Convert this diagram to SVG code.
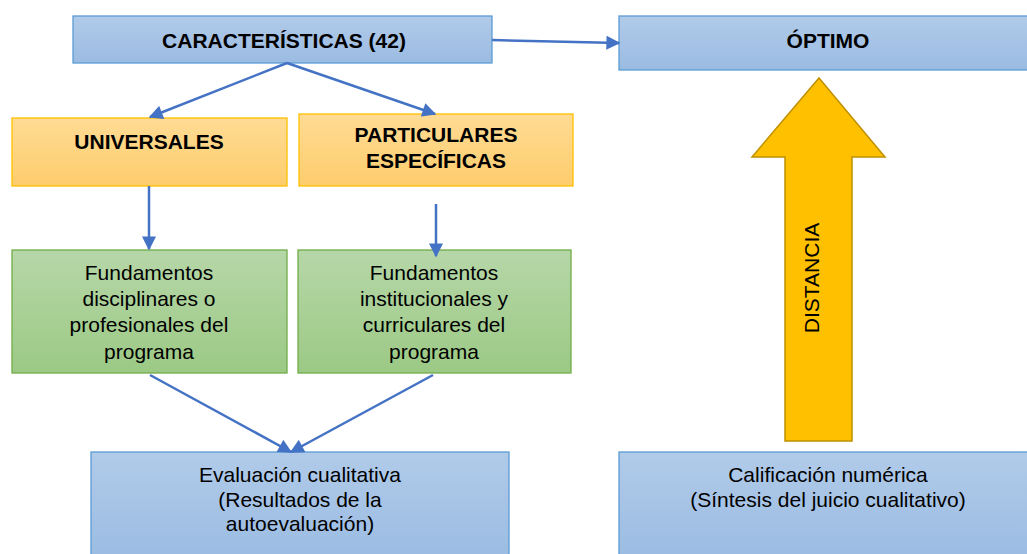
<svg xmlns="http://www.w3.org/2000/svg" width="1027" height="554" viewBox="0 0 1027 554">
<defs>
<linearGradient id="gBlue" x1="0" y1="0" x2="0" y2="1"><stop offset="0" stop-color="#b1cbe9"/><stop offset="1" stop-color="#9abbe2"/></linearGradient>
<linearGradient id="gOrange" x1="0" y1="0" x2="0" y2="1"><stop offset="0" stop-color="#ffdb94"/><stop offset="1" stop-color="#fdcd6c"/></linearGradient>
<linearGradient id="gGreen" x1="0" y1="0" x2="0" y2="1"><stop offset="0" stop-color="#b6d7a8"/><stop offset="1" stop-color="#9cc985"/></linearGradient>
<marker id="ahB" viewBox="0 0 10 10" refX="9" refY="5" markerWidth="15" markerHeight="14" markerUnits="userSpaceOnUse" orient="auto"><path d="M0,0 L10,5 L0,10 z" fill="#4472c4"/></marker>
<style>
.blue{fill:url(#gBlue);stroke:#5b9bd5;stroke-width:1.3}
.orange{fill:url(#gOrange);stroke:#ffc000;stroke-width:1.3}
.green{fill:url(#gGreen);stroke:#70ad47;stroke-width:1.3}
.b{font-family:"Liberation Sans",Arial,sans-serif;font-weight:bold;font-size:21px;fill:#000;text-anchor:middle}
.t{font-family:"Liberation Sans",Arial,sans-serif;font-size:21px;fill:#000;text-anchor:middle}
.c{fill:none;stroke:#4472c4;stroke-width:2.5;marker-end:url(#ahB)}
</style>
</defs>
<rect width="1027" height="554" fill="#fff"/>
<g id="caracteristicas"><rect class="blue" x="73" y="16" width="419" height="47"/><text class="b" x="284" y="48">CARACTERÍSTICAS (42)</text></g>
<g id="optimo"><rect class="blue" x="619" y="16" width="420" height="54"/><text class="b" x="828" y="48">ÓPTIMO</text></g>
<g id="universales"><rect class="orange" x="12" y="118" width="275" height="68"/><text class="b" x="149" y="149">UNIVERSALES</text></g>
<g id="particulares"><rect class="orange" x="299" y="114" width="274" height="72"/><text class="b" x="436" y="142">PARTICULARES</text><text class="b" x="436" y="168">ESPECÍFICAS</text></g>
<g id="fund-disciplinares"><rect class="green" x="12" y="250" width="275" height="123"/>
<text class="t" x="149" y="280">Fundamentos</text><text class="t" x="149" y="306">disciplinares o</text><text class="t" x="149" y="332">profesionales del</text><text class="t" x="149" y="359">programa</text></g>
<g id="fund-institucionales"><rect class="green" x="298" y="250" width="273" height="123"/>
<text class="t" x="434" y="280">Fundamentos</text><text class="t" x="434" y="306">institucionales y</text><text class="t" x="434" y="332">curriculares del</text><text class="t" x="434" y="359">programa</text></g>
<g id="evaluacion"><rect class="blue" x="91" y="452" width="418" height="110"/>
<text class="t" x="300" y="482">Evaluación cualitativa</text><text class="t" x="300" y="507">(Resultados de la</text><text class="t" x="300" y="531">autoevaluación)</text></g>
<g id="calificacion"><rect class="blue" x="619" y="452" width="420" height="110"/>
<text class="t" x="828" y="482">Calificación numérica</text><text class="t" x="828" y="507">(Síntesis del juicio cualitativo)</text></g>
<g id="distancia"><path d="M819,78 L885,157 L852,157 L852,441 L785,441 L785,157 L752,157 Z" fill="#ffc000" stroke="#bf9000" stroke-width="1.5"/>
<text class="t" transform="translate(811,278) rotate(-90)" y="7.5">DISTANCIA</text></g>
<g id="connectors">
<path class="c" d="M492,40 L619,43"/>
<path class="c" d="M287,63 L150,117"/>
<path class="c" d="M287,63 L435,114"/>
<path class="c" d="M149,186 L149,249"/>
<path class="c" d="M436,204 L436,256"/>
<path class="c" d="M150,375 L291,452"/>
<path class="c" d="M433,375 L291,452"/>
</g>
</svg>
